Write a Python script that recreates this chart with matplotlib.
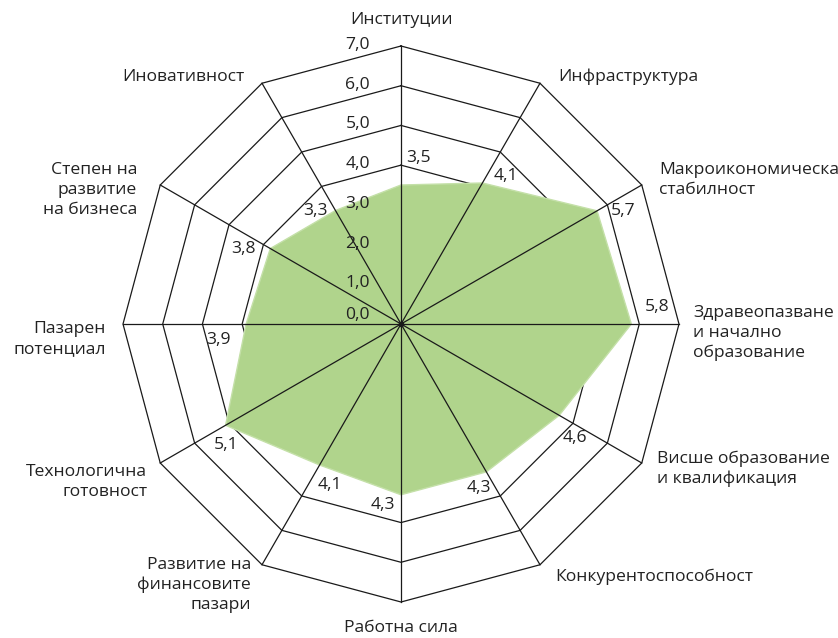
import numpy as np
import matplotlib
matplotlib.use("Agg")
import matplotlib.pyplot as plt

plt.rcParams['font.family'] = ['Open Sans', 'DejaVu Sans']

# data
categories = ['Институции', 'Инфраструктура', 'Макроикономическа\nстабилност',
              'Здравеопазване\nи начално\nобразование', 'Висше образование\nи квалификация',
              'Конкурентоспособност', 'Работна сила', 'Развитие на\nфинансовите\nпазари',
              'Технологична\nготовност', 'Пазарен\nпотенциал', 'Степен на\nразвитие\nна бизнеса',
              'Иновативност']
values = [3.5, 4.1, 5.7, 5.8, 4.6, 4.3, 4.3, 4.1, 5.1, 3.9, 3.8, 3.3]
ticks = [0, 1, 2, 3, 4, 5, 6, 7]

# styling (pixel offsets / alignment per label)
cat_style = [((0, 26), 'center'), ((18, 6), 'left'), ((17, 5), 'left'), ((14, -9), 'left'),
             ((15, -6), 'left'), ((15, -12), 'left'), ((0, -26), 'center'), ((-11, -20), 'right'),
             ((-13, -19), 'right'), ((-17, -15), 'right'), ((-23, -5), 'right'), ((-17, 6), 'right')]
val_offsets = [(17, 27), (23, 7), (26, 0), (26, 17), (16, -23), (-8, -16),
               (-18, -10), (10, -20), (1, -20), (-28, -16), (-27, 0), (-20, 0)]

W, H = 838, 638
cx, cy = 401, 324
rmax = ticks[-1]
scale = 278 / rmax  # px per unit
fs = 12.6

fig = plt.figure(figsize=(W / 100, H / 100), dpi=100)
ax = fig.add_axes([0, 0, 1, 1])
ax.set_xlim(-cx / scale, (W - cx) / scale)
ax.set_ylim(-(H - cy) / scale, cy / scale)
ax.axis('off')

n = len(categories)
theta = np.arange(n) * 2 * np.pi / n
sx, sy = np.sin(theta), np.cos(theta)

# rings
for t in ticks[1:]:
    ax.plot(np.append(sx, sx[0]) * t, np.append(sy, sy[0]) * t, color='#1a1a1a', lw=0.9, zorder=1)

# filled area
vals = np.array(values)
ax.fill(sx * vals, sy * vals, color='#b0d48c', ec='#c4e0a8', lw=1, zorder=2)

# spokes
for i in range(n):
    ax.plot([0, sx[i] * rmax], [0, sy[i] * rmax], color='#1a1a1a', lw=0.9, zorder=3)
ax.plot(0, 0, 'o', color='#1a1a1a', ms=3, zorder=4)

# tick labels
for t in ticks:
    dy = 9 if t == 0 else 1
    ax.annotate(f'{t:.1f}'.replace('.', ','), (0, t), xytext=(-31, dy), textcoords='offset pixels',
                ha='right', va='center', fontsize=fs, color='#222222', zorder=5)

# value labels
for i, v in enumerate(values):
    ax.annotate(f'{v:.1f}'.replace('.', ','), (sx[i] * v, sy[i] * v), xytext=val_offsets[i],
                textcoords='offset pixels', ha='center', va='center', fontsize=fs,
                color='#222222', zorder=5)

# category labels
for i, lab in enumerate(categories):
    off, ha = cat_style[i]
    ax.annotate(lab, (sx[i] * rmax, sy[i] * rmax), xytext=off, textcoords='offset pixels',
                ha=ha, va='center', multialignment=ha, fontsize=fs, color='#222222',
                linespacing=1.3)

fig.savefig('out.png', dpi=100)
